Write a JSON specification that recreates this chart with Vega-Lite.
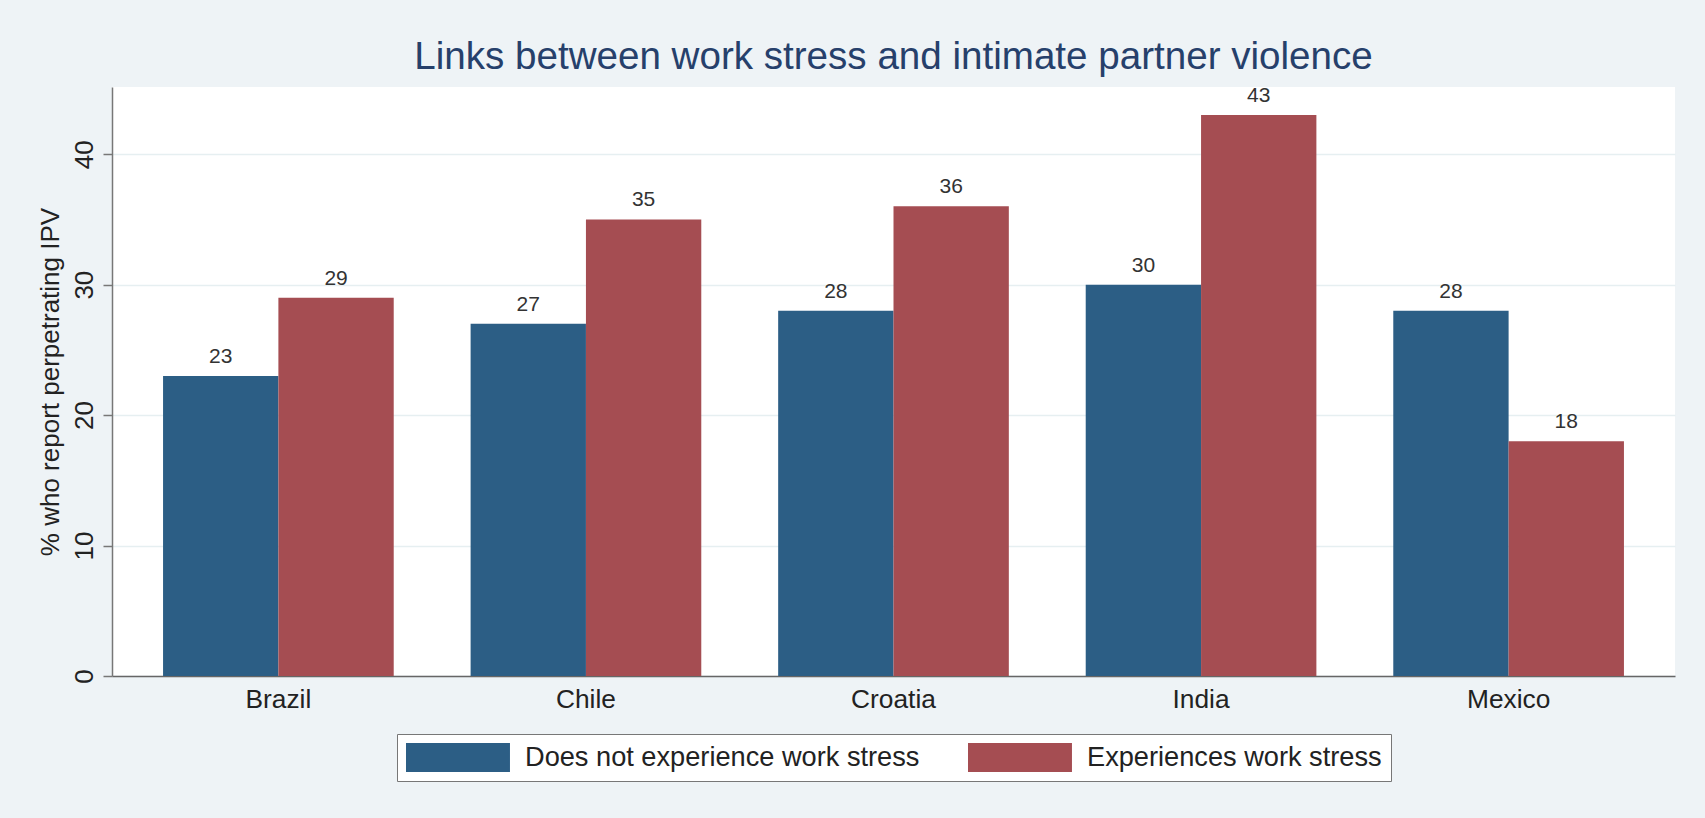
{
  "$schema": "https://vega.github.io/schema/vega-lite/v6.json",
  "width": 1563,
  "height": 589,
  "autosize": {"type": "none"},
  "padding": {"left": 112, "top": 87, "right": 30, "bottom": 142},
  "background": "#eef3f6",
  "title": {
    "text": "Links between work stress and intimate partner violence",
    "fontSize": 38.6,
    "font": "Liberation Sans",
    "fontWeight": "normal",
    "color": "#26406b",
    "anchor": "middle",
    "offset": 7
  },
  "data": {
    "values": [
      {"country": "Brazil", "group": "Does not experience work stress", "pct": 23},
      {"country": "Brazil", "group": "Experiences work stress", "pct": 29},
      {"country": "Chile", "group": "Does not experience work stress", "pct": 27},
      {"country": "Chile", "group": "Experiences work stress", "pct": 35},
      {"country": "Croatia", "group": "Does not experience work stress", "pct": 28},
      {"country": "Croatia", "group": "Experiences work stress", "pct": 36},
      {"country": "India", "group": "Does not experience work stress", "pct": 30},
      {"country": "India", "group": "Experiences work stress", "pct": 43},
      {"country": "Mexico", "group": "Does not experience work stress", "pct": 28},
      {"country": "Mexico", "group": "Experiences work stress", "pct": 18}
    ]
  },
  "encoding": {
    "x": {
      "field": "country",
      "type": "nominal",
      "sort": null,
      "scale": {"paddingInner": 0.25, "paddingOuter": 0.166},
      "axis": {
        "title": null,
        "labelAngle": 0,
        "ticks": false,
        "labelFontSize": 26.3,
        "labelFont": "Liberation Sans",
        "labelColor": "#222222",
        "labelPadding": 10,
        "domainColor": "#666666",
        "domainWidth": 1.5,
        "grid": false
      }
    },
    "xOffset": {"field": "group", "type": "nominal", "sort": null, "scale": {"paddingInner": 0, "paddingOuter": 0}},
    "y": {
      "field": "pct",
      "type": "quantitative",
      "scale": {"domain": [0, 45.15], "nice": false},
      "axis": {
        "title": "% who report perpetrating IPV",
        "titleFontSize": 26,
        "titleFont": "Liberation Sans",
        "titleFontWeight": "normal",
        "titleColor": "#222222",
        "titlePadding": 8,
        "values": [0, 10, 20, 30, 40],
        "labelAngle": -90,
        "labelFontSize": 26,
        "labelFont": "Liberation Sans",
        "labelColor": "#222222",
        "labelPadding": 6,
        "tickSize": 9,
        "tickColor": "#777777",
        "tickWidth": 1.5,
        "domainColor": "#777777",
        "domainWidth": 1.5,
        "gridColor": "#e6eff1",
        "gridWidth": 1.5
      }
    }
  },
  "layer": [
    {
      "mark": {"type": "bar"},
      "encoding": {
        "color": {
          "field": "group",
          "type": "nominal",
          "sort": null,
          "scale": {"range": ["#2c5e85", "#a54d52"]},
          "legend": {
            "title": null,
            "orient": "bottom",
            "direction": "horizontal",
            "symbolType": "M-1,-1H6.17V1H-1Z",
            "symbolSize": 841,
            "symbolStrokeWidth": 0,
            "symbolOpacity": 1,
            "labelOffset": 90,
            "labelFontSize": 27.2,
            "labelFont": "Liberation Sans",
            "labelColor": "#222222",
            "labelLimit": 1000,
            "labelExpr": "datum.label == 'Experiences work stress' ? datum.label + '  ' : datum.label",
            "columnPadding": 48,
            "padding": 9,
            "fillColor": "#ffffff",
            "strokeColor": "#777777",
            "offset": 21
          }
        }
      }
    },
    {
      "mark": {"type": "text", "baseline": "bottom", "dy": -9, "fontSize": 21, "font": "Liberation Sans", "color": "#333333"},
      "encoding": {
        "text": {"field": "pct", "type": "quantitative"}
      }
    }
  ],
  "config": {
    "view": {"fill": "#ffffff", "stroke": null},
    "legend": {"layout": {"bottom": {"anchor": "middle"}}}
  }
}
